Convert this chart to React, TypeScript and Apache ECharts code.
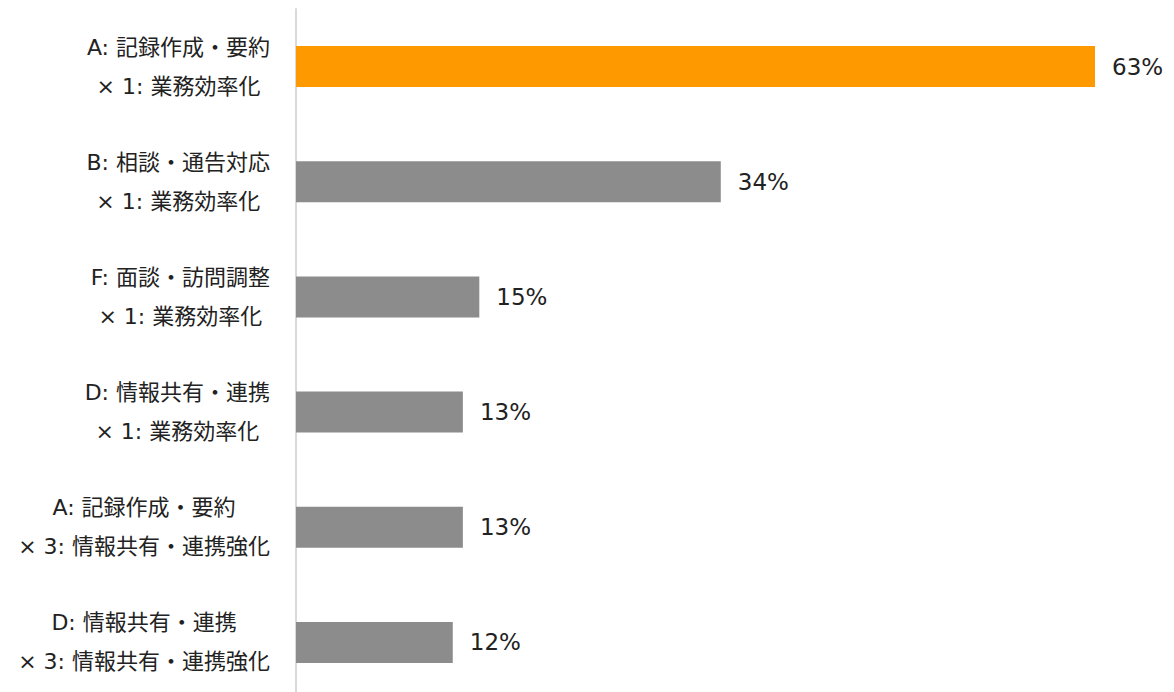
import React, { useEffect, useRef } from "react";
import * as echarts from "echarts";

const categories: string[] = [
  "A: 記録作成・要約\n× 1: 業務効率化",
  "B: 相談・通告対応\n× 1: 業務効率化",
  "F: 面談・訪問調整\n× 1: 業務効率化",
  "D: 情報共有・連携\n× 1: 業務効率化",
  "A: 記録作成・要約\n× 3: 情報共有・連携強化",
  "D: 情報共有・連携\n× 3: 情報共有・連携強化",
];
const values: number[] = [63.2, 33.6, 14.5, 13.2, 13.2, 12.4];
const highlightIndex = 0;

const FONT = "'DejaVu Sans', 'Noto Sans CJK JP', sans-serif";
const TEXT_COLOR = "#222222";

export default function App() {
  const ref = useRef<HTMLDivElement>(null);
  useEffect(() => {
    if (!ref.current) return;
    const chart = echarts.init(ref.current, undefined, { renderer: "svg" });
    chart.setOption({
      animation: false,
      backgroundColor: "#ffffff",
      grid: {
        left: 296,
        right: 79,
        top: 9,
        height: 691,
        outerBoundsMode: "none",
        containLabel: false,
      },
      xAxis: {
        type: "value",
        min: 0,
        max: "dataMax",
        show: false,
        splitLine: { show: false },
      },
      yAxis: {
        type: "category",
        data: categories,
        inverse: true,
        axisLine: { show: true, lineStyle: { color: "#d9d9d9", width: 2 } },
        axisTick: { show: false },
        axisLabel: {
          margin: 26,
          align: "right",
          formatter: (v: string) =>
            v
              .split("\n")
              .map((s) => `{c|${s}}`)
              .join("\n"),
          rich: {
            c: {
              align: "center",
              fontSize: 22,
              lineHeight: 39,
              fontFamily: FONT,
              color: TEXT_COLOR,
            },
          },
        },
      },
      series: [
        {
          type: "bar",
          barWidth: 41,
          data: values.map((v, i) => ({
            value: v,
            itemStyle: { color: i === highlightIndex ? "#ff9900" : "#8c8c8c" },
          })),
          label: {
            show: true,
            position: "right",
            distance: 17,
            formatter: (p: any) => `${Math.round(p.value)}%`,
            fontSize: 23,
            fontFamily: FONT,
            color: TEXT_COLOR,
          },
        },
      ],
    });
    return () => chart.dispose();
  }, []);
  return (
    <div
      ref={ref}
      style={{ position: "absolute", left: 0, top: 0, width: 1174, height: 692 }}
    />
  );
}
